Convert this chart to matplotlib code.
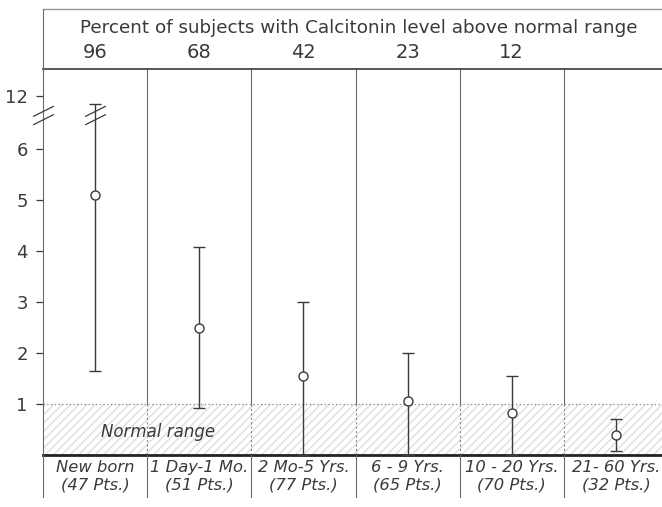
'''Calcitonin level by age group, with normal range and percent above normal.'''

import numpy as np
import matplotlib.pyplot as plt
from matplotlib.path import Path

AGE_GROUPS = ['New born', '1 Day-1 Mo.', '2 Mo-5 Yrs.', '6 - 9 Yrs.', '10 - 20 Yrs.', '21- 60 Yrs.']
PATIENTS = ['(47 Pts.)', '(51 Pts.)', '(77 Pts.)', '(65 Pts.)', '(70 Pts.)', '(32 Pts.)']
PCT_ABOVE = ['96', '68', '42', '23', '12', '']
MEANS = [5.1, 2.5, 1.55, 1.05, 0.83, 0.39]
LOWS = [1.65, 0.92, 0.0, 0.0, 0.0, 0.08]
HIGHS = [11.1, 4.08, 3.0, 2.0, 1.55, 0.7]
YTICKS = [1, 2, 3, 4, 5, 6, 12]

INK = '#3a3a3a'
LINE = '#6a6a6a'
BREAK_AT = 9.9
K = 0.173  # compression of the axis above 6


def forward(v):
    v = np.asarray(v, dtype=float)
    return np.where(v <= 6, v, 6 + (v - 6) * K)


def inverse(d):
    d = np.asarray(d, dtype=float)
    return np.where(d <= 6, d, 6 + (d - 6) / K)


plt.rcParams['font.family'] = ['DejaVu Sans']

fig = plt.figure(figsize=(6.62, 5.07), dpi=100)
left, width = 43 / 662, 625 / 662
ax = fig.add_axes([left, 52 / 507, width, 386 / 507])
head = fig.add_axes([left, 438 / 507, width, 60 / 507], sharex=ax)
foot = fig.add_axes([left, 9 / 507, width, 43 / 507], sharex=ax)

x = np.arange(len(AGE_GROUPS)) + 0.5

# main panel
ax.set_yscale('function', functions=(forward, inverse))
ax.set_xlim(0, len(AGE_GROUPS))
ax.set_ylim(0, 15.1)

ax.axhspan(0, 1, fill=False, hatch='////', edgecolor='#dedede', lw=0)
ax.axhline(1, color='#888888', ls=(0, (1, 2)), lw=0.9)
for xd in range(1, len(AGE_GROUPS)):
    ax.plot([xd, xd], [1, 15.1], color=LINE, lw=0.8)
    ax.plot([xd, xd], [0, 1], color='#888888', ls=(0, (2, 2)), lw=0.8)

means = np.array(MEANS)
err = [means - np.array(LOWS), np.array(HIGHS) - means]
ax.errorbar(x, means, yerr=err, fmt='o', ms=6.5, mfc='white', mec=INK, mew=1,
            ecolor=INK, elinewidth=1, capsize=4, capthick=1, zorder=5)

ax.text(1.1, 0.45, 'Normal range', style='italic', fontsize=12, color=INK,
        ha='center', va='center')

# axis break marks
slash = Path([(-1, -0.9), (1, 0.1), (-1, -0.1), (1, 0.9)],
             [Path.MOVETO, Path.LINETO, Path.MOVETO, Path.LINETO])
ax.plot([0, x[0]], [BREAK_AT, BREAK_AT], ls='none', marker=slash, ms=15,
        mec=INK, mew=0.9, clip_on=False, zorder=6)

ax.set_yticks(YTICKS)
ax.set_yticklabels([str(t) for t in YTICKS])
ax.yaxis.set_minor_locator(plt.NullLocator())
ax.tick_params(axis='y', length=5, width=0.9, color=INK, labelsize=13,
               labelcolor=INK, pad=6)
ax.tick_params(axis='x', bottom=False, labelbottom=False)
ax.spines['right'].set_visible(False)
ax.spines['left'].set_color(LINE)
ax.spines['top'].set_color(INK)
ax.spines['top'].set_linewidth(1.2)
ax.spines['bottom'].set_color('#222222')
ax.spines['bottom'].set_linewidth(2)

# header with percent above normal
head.set_ylim(0, 1)
head.text(3.03, 0.68, 'Percent of subjects with Calcitonin level above normal range',
          fontsize=13.2, color=INK, ha='center', va='center')
for xi, pct in zip(x, PCT_ABOVE):
    head.text(xi, 0.28, pct, fontsize=14, color=INK, ha='center', va='center')
head.axis('off')
head.plot([0, 6], [1, 1], color='#999999', lw=1, clip_on=False)
head.plot([0, 0], [0, 1], color=LINE, lw=0.8, clip_on=False)

# footer with group labels
foot.set_ylim(0, 1)
for xi, grp, pts in zip(x, AGE_GROUPS, PATIENTS):
    foot.text(xi, 0.72, grp, style='italic', fontsize=11.8, color=INK, ha='center', va='center')
    foot.text(xi, 0.30, pts, style='italic', fontsize=11.8, color=INK, ha='center', va='center')
foot.axis('off')
for xd in range(0, len(AGE_GROUPS)):
    foot.plot([xd, xd], [0, 1], color=LINE, lw=0.8)
foot.plot([0, 6], [0, 0], color='#bbbbbb', lw=0.8)

fig.savefig('out.png', dpi=100)
